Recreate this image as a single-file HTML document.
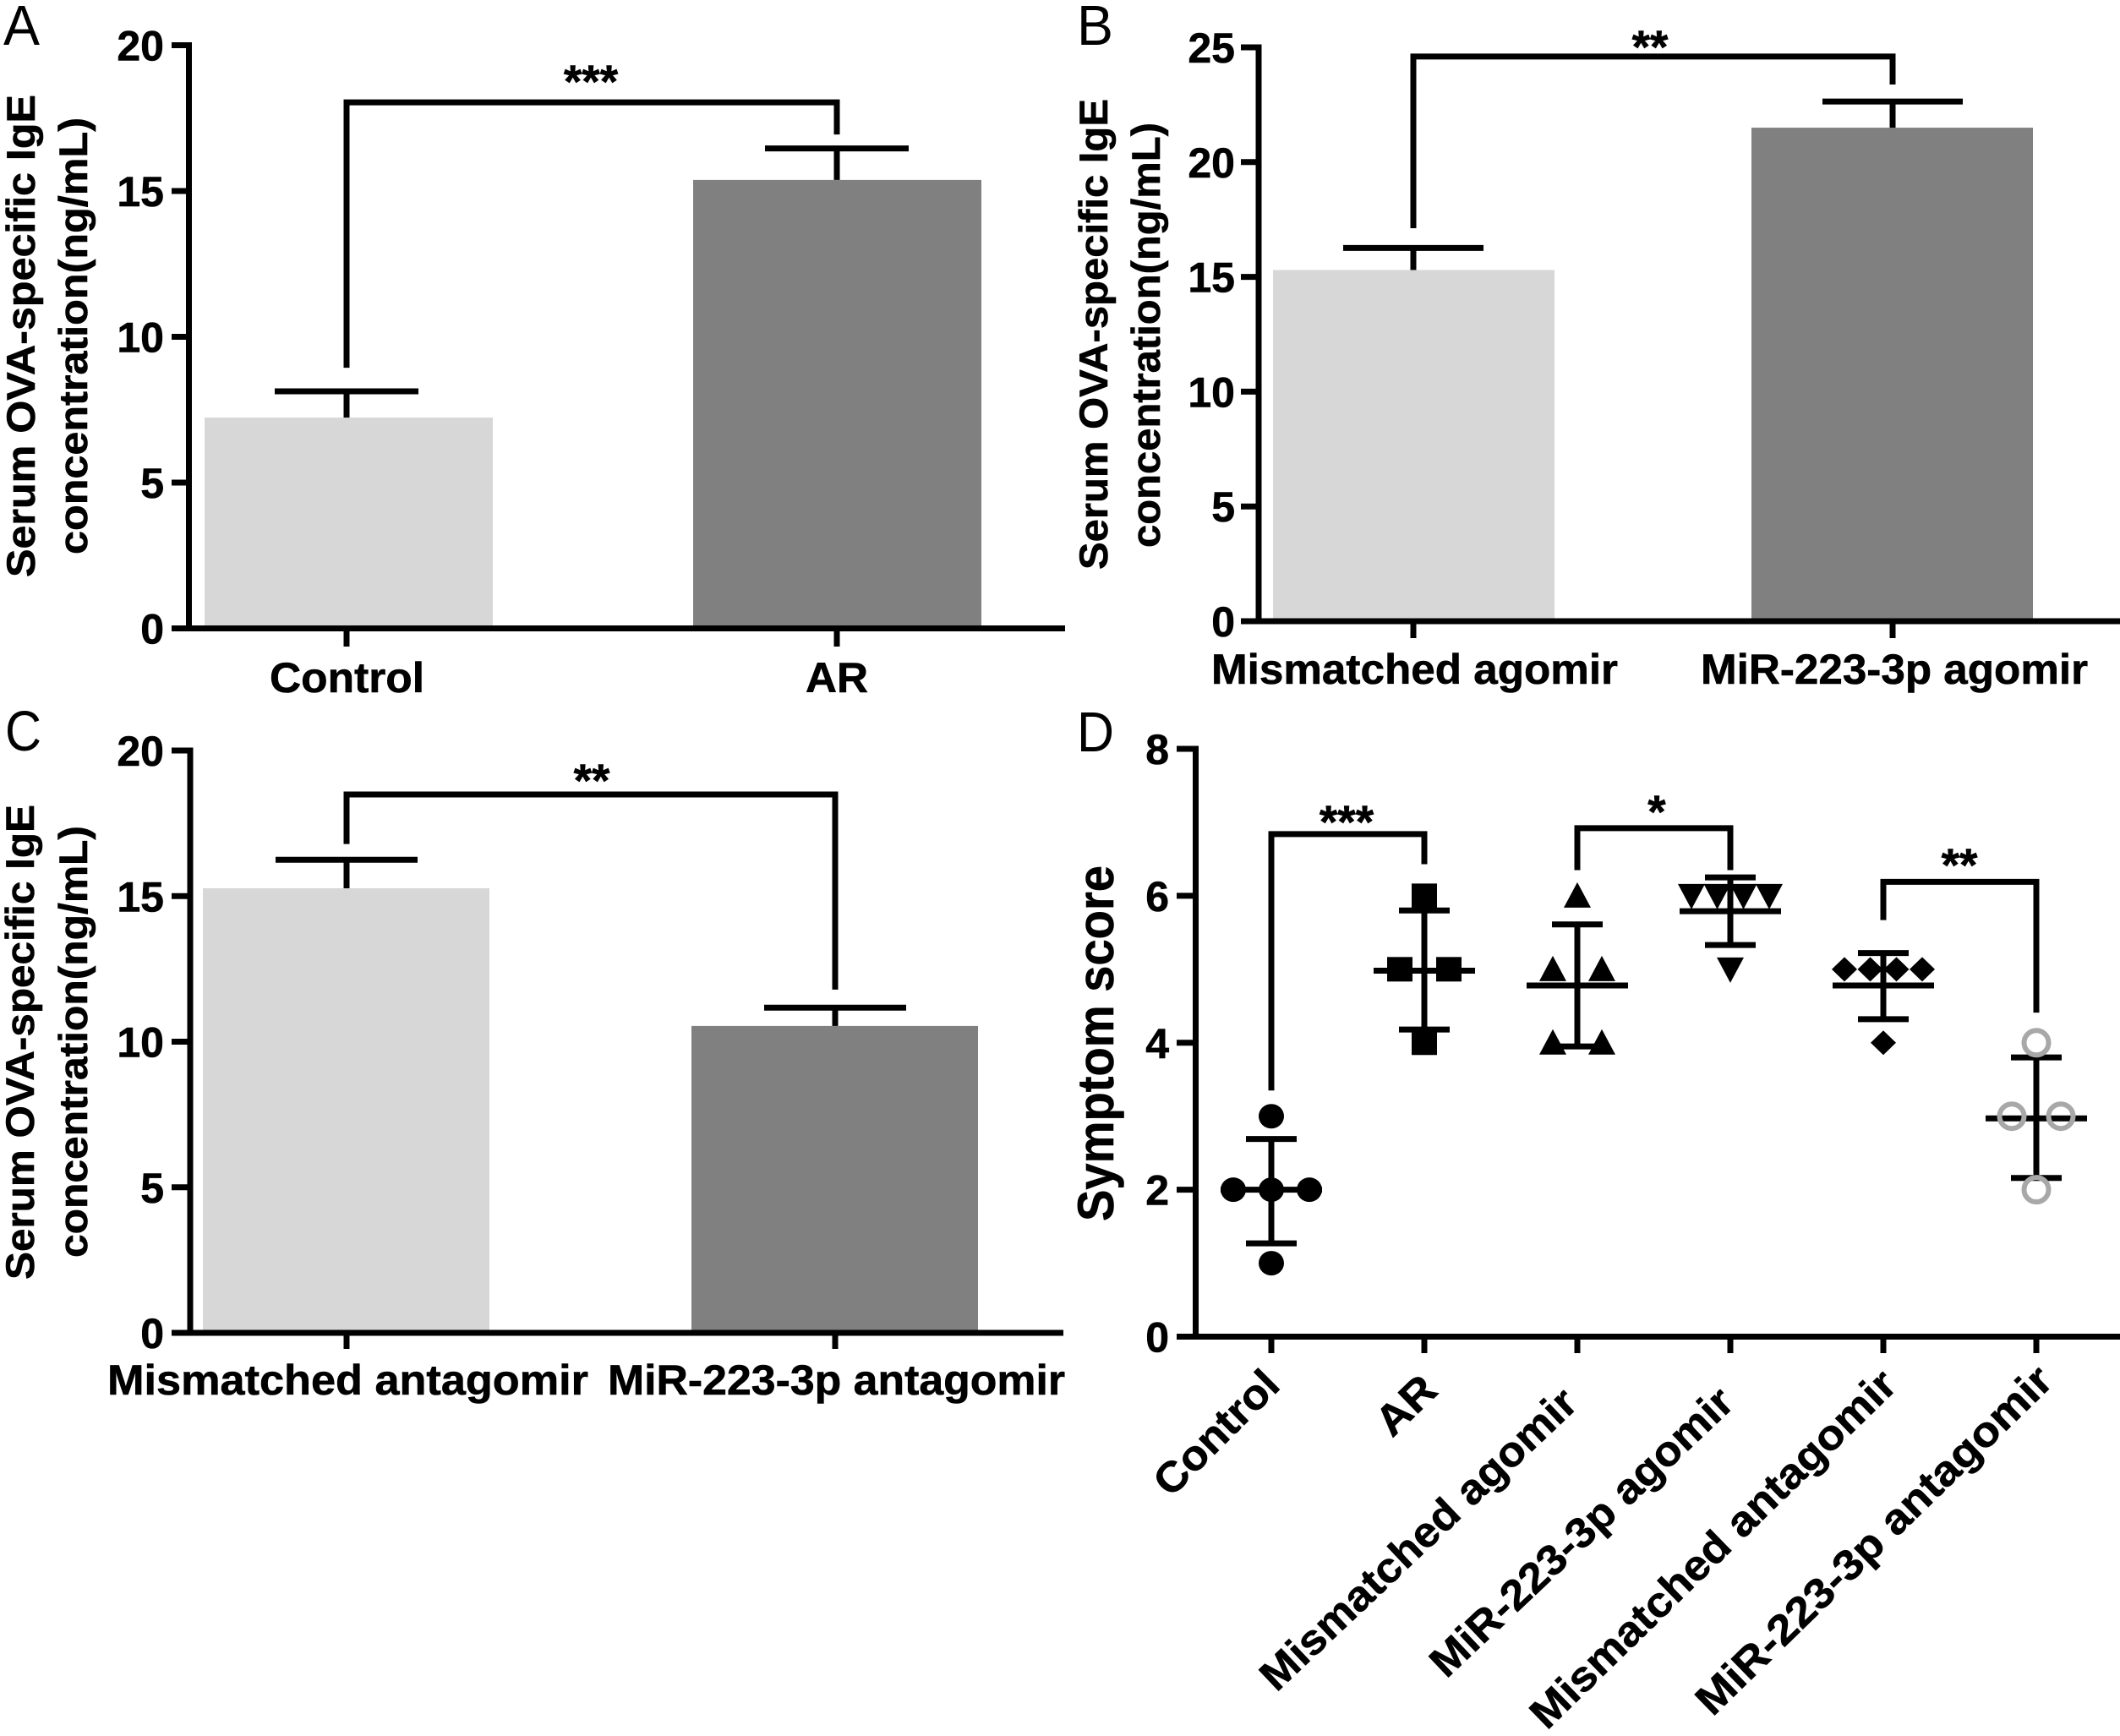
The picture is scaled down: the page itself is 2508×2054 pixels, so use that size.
<!DOCTYPE html>
<html lang="en">
<head>
<meta charset="utf-8">
<title>Serum IgE and symptom score panels</title>
<style>
html,body{margin:0;padding:0;background:#fff;width:2508px;height:2054px;overflow:hidden}
svg{display:block}
text{font-family:"Liberation Sans",sans-serif;fill:#000}
.b{font-weight:700;stroke:#000;stroke-width:.6px}
.letter{font-weight:400;font-size:67px}
.yt{font-weight:700;font-size:47px;stroke:#000;stroke-width:.6px}
</style>
</head>
<body>
<svg id="fig" xmlns="http://www.w3.org/2000/svg" width="2508" height="2054" viewBox="0 0 2508 2054">
  <rect x="0" y="0" width="2508" height="2054" fill="#fff"/>
  <text class="letter" x="4" y="53" textLength="43" lengthAdjust="spacingAndGlyphs">A</text>
  <text class="letter" x="1274" y="53" textLength="43" lengthAdjust="spacingAndGlyphs">B</text>
  <text class="letter" x="6" y="888" textLength="43" lengthAdjust="spacingAndGlyphs">C</text>
  <text class="letter" x="1274" y="889" textLength="44" lengthAdjust="spacingAndGlyphs">D</text>

  <text class="yt" transform="translate(41,683) rotate(-90)" textLength="571" lengthAdjust="spacingAndGlyphs">Serum OVA-specific IgE</text>
  <text class="yt" transform="translate(103,656) rotate(-90)" textLength="517" lengthAdjust="spacingAndGlyphs">concentration(ng/mL)</text>
  <text class="yt" transform="translate(1310,674) rotate(-90)" textLength="557" lengthAdjust="spacingAndGlyphs">Serum OVA-specific IgE</text>
  <text class="yt" transform="translate(1372,648) rotate(-90)" textLength="503" lengthAdjust="spacingAndGlyphs">concentration(ng/mL)</text>
  <text class="yt" transform="translate(40,1514) rotate(-90)" textLength="562" lengthAdjust="spacingAndGlyphs">Serum OVA-specific IgE</text>
  <text class="yt" transform="translate(103,1488) rotate(-90)" textLength="511" lengthAdjust="spacingAndGlyphs">concentration(ng/mL)</text>
  <text class="b" font-size="60" transform="translate(1317,1445) rotate(-90)" textLength="421" lengthAdjust="spacingAndGlyphs">Symptom score</text>
  <g id="marks"></g>
</svg>
<script>
// ---- Panel A data ----
const aCategories = ["Control", "AR"];
const aMeans = [7.23, 15.38];
const aErrors = [0.9, 1.08];
const aTicks = [0, 5, 10, 15, 20];
const aBracket = [18.04, 8.94, 16.94];
const aStars = "***";
// ---- Panel B data ----
const bCategories = ["Mismatched agomir", "MiR-223-3p agomir"];
const bMeans = [15.3, 21.5];
const bErrors = [0.96, 1.14];
const bTicks = [0, 5, 10, 15, 20, 25];
const bBracket = [24.6, 17.12, 23.38];
const bStars = "**";
// ---- Panel C data ----
const cCategories = ["Mismatched antagomir", "MiR-223-3p antagomir"];
const cMeans = [15.27, 10.54];
const cErrors = [0.98, 0.63];
const cTicks = [0, 5, 10, 15, 20];
const cBracket = [18.49, 16.79, 11.79];
const cStars = "**";
// ---- Panel D data ----
const dCategories = ["Control", "AR", "Mismatched agomir", "MiR-223-3p agomir", "Mismatched antagomir", "MiR-223-3p antagomir"];
const dScores = [
  [1, 2, 2, 2, 3],
  [4, 5, 5, 6],
  [4, 4, 5, 5, 6],
  [5, 6, 6, 6, 6],
  [4, 5, 5, 5, 5],
  [2, 3, 3, 4]
];
const dMeans = [2, 4.98, 4.78, 5.79, 4.78, 2.97];
const dUpper = [2.69, 5.8, 5.61, 6.25, 5.22, 3.8];
const dLower = [1.27, 4.18, 3.95, 5.33, 4.32, 2.16];
const dTicks = [0, 2, 4, 6, 8];
const dBrackets = [
  [0, 1, 6.84, 3.35, 6.43, "***"],
  [2, 3, 6.92, 6.35, 6.35, "*"],
  [4, 5, 6.19, 5.67, 4.41, "**"]
];

const NS = "http://www.w3.org/2000/svg";
const root = document.getElementById("marks");

function add(tag, attrs, name, txt) {
  const node = document.createElementNS(NS, tag);
  for (const k in attrs) node.setAttribute(k, attrs[k]);
  
  
  if (txt !== undefined) node.textContent = txt;
  root.appendChild(node);
  return node;
}
function seg(x1, y1, x2, y2, w, name) {
  return add("line", {x1: x1, y1: y1, x2: x2, y2: y2, stroke: "#000", "stroke-width": w}, name);
}
function axes(p, ticks, yScale, name) {
  seg(p.axisX, p.yTop - 3.5, p.axisX, p.y0 + 3.5, 7, name + "-y-axis");
  seg(p.tickLeft, p.y0, p.axisEnd, p.y0, 7, name + "-x-axis");
  ticks.forEach(function (t) {
    const y = yScale(t);
    if (t !== ticks[0]) seg(p.tickLeft, y, p.axisX, y, 7, name + "-y-tick-" + t);
    add("text", {x: p.labelRight, y: y + 18, "text-anchor": "end", class: "b", "font-size": 50}, name + "-y-tick-label-" + t, String(t));
  });
}
function bracket(xa, xb, yLevel, yA, yB, stars, starX, starY, name) {
  add("path", {d: "M" + xa + " " + yA + "V" + yLevel + "H" + xb + "V" + yB, fill: "none", stroke: "#000", "stroke-width": 7}, name + "-bracket");
  add("text", {x: starX, y: starY + 30, "text-anchor": "middle", class: "b", "font-size": 55}, name + "-significance", stars);
}

function barPanel(p, cats, means, errs, ticks, br, stars, name) {
  const yScale = function (v) { return p.y0 - v * (p.y0 - p.yTop) / ticks[ticks.length - 1]; };
  means.forEach(function (m, i) {
    const fill = i === 0 ? "#d7d7d7" : "#808080";
    add("rect", {x: p.barL[i], y: yScale(m), width: p.barW, height: p.y0 - yScale(m), fill: fill}, name + "-bar-" + (i + 1));
    const top = yScale(m + errs[i]);
    seg(p.cx[i], yScale(m), p.cx[i], top, 7, name + "-error-stem-" + (i + 1));
    seg(p.cx[i] - p.capHalf, top, p.cx[i] + p.capHalf, top, 7, name + "-error-cap-" + (i + 1));
    seg(p.cx[i], p.y0, p.cx[i], p.tickBottom, 7, name + "-x-tick-" + (i + 1));
    add("text", {x: p.labelX[i], y: p.labelY, class: "b", "font-size": 50, textLength: p.labelLen[i], lengthAdjust: "spacingAndGlyphs"}, name + "-x-label-" + (i + 1), cats[i]);
  });
  axes(p, ticks, yScale, name);
  bracket(p.cx[0], p.cx[1], yScale(br[0]), yScale(br[1]), yScale(br[2]), stars, p.starX, p.starY, name);
}

barPanel({axisX: 223.5, y0: 743.5, yTop: 53.5, tickLeft: 203, axisEnd: 1260, labelRight: 194, barL: [242, 820], barW: 341, cx: [410, 990], capHalf: 85, tickBottom: 765, labelX: [319, 953], labelY: 819, labelLen: [183, 74], starX: 699, starY: 85},
  aCategories, aMeans, aErrors, aTicks, aBracket, aStars, "panel-a");
barPanel({axisX: 1489, y0: 735, yTop: 56, tickLeft: 1468, axisEnd: 2508, labelRight: 1461, barL: [1506, 2072], barW: 333, cx: [1672, 2239], capHalf: 83, tickBottom: 755, labelX: [1433, 2012], labelY: 809, labelLen: [481, 458], starX: 1952, starY: 44},
  bCategories, bMeans, bErrors, bTicks, bBracket, bStars, "panel-b");
barPanel({axisX: 225, y0: 1577, yTop: 888, tickLeft: 203, axisEnd: 1258, labelRight: 194, barL: [240, 818], barW: 339, cx: [410, 988], capHalf: 84, tickBottom: 1596, labelX: [127, 719], labelY: 1650, labelLen: [569, 541], starX: 700, starY: 912},
  cCategories, cMeans, cErrors, cTicks, cBracket, cStars, "panel-c");

// ---- Panel D scatter ----
const dLayout = {axisX: 1414.5, y0: 1581.5, yTop: 886, tickLeft: 1392, axisEnd: 2508, labelRight: 1383};
const dX0 = 1504, dStep = 181;
function dXScale(i) { return dX0 + i * dStep; }
function dYScale(v) { return dLayout.y0 - v * (dLayout.y0 - dLayout.yTop) / 8; }
const spreadByCount = {1: [0], 2: [-29, 29], 3: [-45, 0, 45], 4: [-46, -15.5, 15.5, 46]};
const dRotStart = [[1385, 1773, 186, 45], [1647, 1702, 78, 44], [1510, 2003, 494, 43.4], [1711, 1987, 472, 43.4], [1830, 2048, 582, 44.3], [2026, 2032, 566, 44.3]];

function marker(kind, x, y, name) {
  if (kind === 0) return add("ellipse", {cx: x, cy: y, rx: 15, ry: 14.5, fill: "#000"}, name);
  if (kind === 1) return add("rect", {x: x - 15, y: y - 14.5, width: 30, height: 29, fill: "#000"}, name);
  if (kind === 2) return add("path", {d: "M" + x + " " + (y - 16) + "L" + (x + 16) + " " + (y + 14) + "H" + (x - 16) + "Z", fill: "#000"}, name);
  if (kind === 3) return add("path", {d: "M" + x + " " + (y + 16) + "L" + (x + 16) + " " + (y - 14) + "H" + (x - 16) + "Z", fill: "#000"}, name);
  if (kind === 4) return add("path", {d: "M" + x + " " + (y - 14.5) + "L" + (x + 15) + " " + y + "L" + x + " " + (y + 14.5) + "L" + (x - 15) + " " + y + "Z", fill: "#000"}, name);
  return add("circle", {cx: x, cy: y, r: 14.5, fill: "none", stroke: "#a8a8a8", "stroke-width": 6}, name);
}

dCategories.forEach(function (cat, i) {
  const x = dXScale(i), g = "panel-d-group-" + (i + 1);
  seg(x, dLayout.y0, x, 1601, 7, "panel-d-x-tick-" + (i + 1));
  seg(x, dYScale(dUpper[i]), x, dYScale(dLower[i]), 7, g + "-error-stem");
  seg(x - 30, dYScale(dUpper[i]), x + 30, dYScale(dUpper[i]), 7, g + "-upper-cap");
  seg(x - 30, dYScale(dLower[i]), x + 30, dYScale(dLower[i]), 7, g + "-lower-cap");
  seg(x - 60, dYScale(dMeans[i]), x + 60, dYScale(dMeans[i]), 7, g + "-mean-line");
  const counts = {};
  dScores[i].forEach(function (v) { counts[v] = (counts[v] || 0) + 1; });
  const seen = {};
  dScores[i].forEach(function (v, k) {
    seen[v] = (seen[v] || 0) + 1;
    marker(i, x + spreadByCount[counts[v]][seen[v] - 1], dYScale(v), g + "-point-" + (k + 1));
  });
  const r = dRotStart[i];
  add("text", {transform: "translate(" + r[0] + "," + r[1] + ") rotate(" + (-r[3]) + ")", class: "b", "font-size": 50, textLength: r[2], lengthAdjust: "spacingAndGlyphs"}, "panel-d-x-label-" + (i + 1), cat);
});
axes(dLayout, dTicks, dYScale, "panel-d");
const dStarPos = [[1593, 961], [1960, 949], [2318, 1012]];
dBrackets.forEach(function (b, n) {
  bracket(dXScale(b[0]), dXScale(b[1]), dYScale(b[2]), dYScale(b[3]), dYScale(b[4]), b[5], dStarPos[n][0], dStarPos[n][1], "panel-d-comparison-" + (n + 1));
});
</script>
</body>
</html>
